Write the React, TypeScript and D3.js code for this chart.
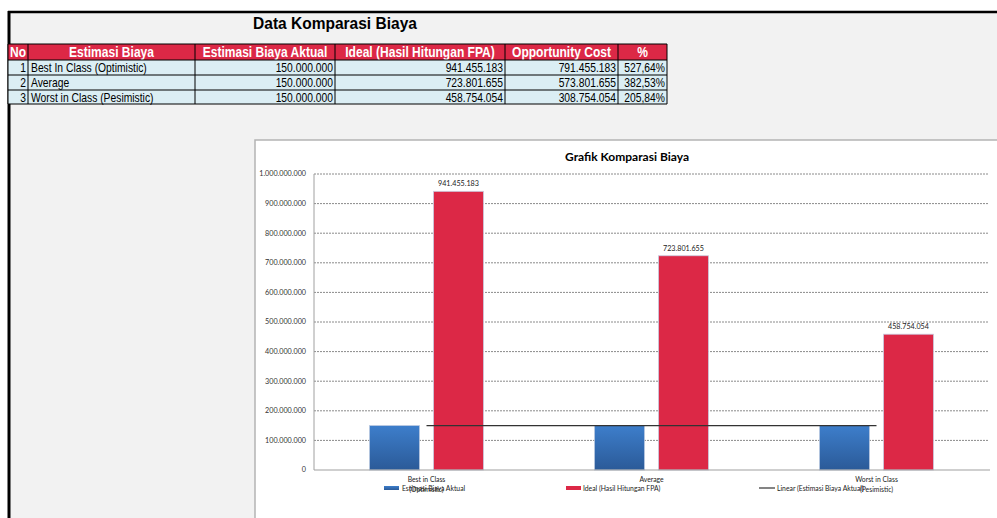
import React from "react";
import * as d3 from "d3";

const tableTitle = "Data Komparasi Biaya";
const chartTitle = "Grafik Komparasi Biaya";
const headers = ["No", "Estimasi Biaya", "Estimasi Biaya Aktual", "Ideal (Hasil Hitungan FPA)", "Opportunity Cost", "%"];
const categories = ["Best In Class (Optimistic)", "Average", "Worst in Class (Pesimistic)"];
const axisLabels = [["Best in Class", "(Optimistic)"], ["Average"], ["Worst in Class", "(Pesimistic)"]];
const aktual = [150000000, 150000000, 150000000];
const ideal = [941455183, 723801655, 458754054];
const opportunity = [791455183, 573801655, 308754054];
const percent = ["527,64%", "382,53%", "205,84%"];
const yTicks = [0, 100000000, 200000000, 300000000, 400000000, 500000000, 600000000, 700000000, 800000000, 900000000, 1000000000];
const seriesNames = ["Estimasi Biaya Aktual", "Ideal (Hasil Hitungan FPA)", "Linear (Estimasi Biaya Aktual)"];

const idLocale = d3.formatLocale({ decimal: ",", thousands: ".", grouping: [3], currency: ["", ""] });
const fmt = idLocale.format(",d");

const colEdges = [8, 28, 195, 335, 505, 618, 667];
const rowEdges = [44, 60, 75, 90, 104];

const RED = "#dc2846";
const TABLE_FONT = "'Liberation Sans', Arial, sans-serif";
const CHART_FONT = "Lato, 'Open Sans', sans-serif";

export default function App() {
  const y = d3.scaleLinear().domain([0, 1000000000]).range([470, 174]);
  const x = d3.scaleBand<string>().domain(categories).range([314, 989]).paddingInner(0).paddingOuter(0);
  const bw = x.bandwidth();
  const xs = d3.scaleBand<string>().domain(["aktual", "ideal"]).range([0, bw]).paddingInner(0.21875).paddingOuter(0.867);

  // linear trendline (least squares) on aktual
  const idx = aktual.map((_, i) => i + 1);
  const mx = d3.mean(idx) as number;
  const my = d3.mean(aktual) as number;
  const sxy = d3.sum(idx.map((v, i) => (v - mx) * (aktual[i] - my)));
  const sxx = d3.sum(idx.map((v) => (v - mx) * (v - mx)));
  const slope = sxx === 0 ? 0 : sxy / sxx;
  const icpt = my - slope * mx;
  const center = (i: number) => (x(categories[i]) as number) + bw / 2;
  const trend = d3.line<number>().x((i) => center(i)).y((i) => y(icpt + slope * (i + 1)));

  const rows = categories.map((c, i) => [String(i + 1), c, fmt(aktual[i]), fmt(ideal[i]), fmt(opportunity[i]), percent[i]]);
  const align = ["end", "start", "end", "end", "end", "end"];

  return (
    <svg width={997} height={518} style={{ position: "absolute", left: 0, top: 0, display: "block" }}>
      <defs>
        <linearGradient id="blueGrad" x1="0" y1="0" x2="0" y2="1">
          <stop offset="0%" stopColor="#3d7ecb" />
          <stop offset="100%" stopColor="#2b5a98" />
        </linearGradient>
      </defs>
      <rect x={0} y={0} width={997} height={518} fill="#ffffff" />
      <rect x={9} y={12} width={988} height={506} fill="#f2f2f2" />
      <line x1={8} x2={997} y1={12} y2={12} stroke="#000" strokeWidth={2.5} />
      <line x1={9} x2={9} y1={11} y2={518} stroke="#000" strokeWidth={3} />

      {/* Table */}
      <text x={335} y={29} textAnchor="middle" fontFamily={TABLE_FONT} fontWeight="bold" fontSize={16} fill="#000" transform="translate(335,0) scale(0.97,1) translate(-335,0)">
        {tableTitle}
      </text>
      <rect x={colEdges[0]} y={rowEdges[0]} width={colEdges[6] - colEdges[0]} height={rowEdges[1] - rowEdges[0]} fill={RED} />
      <rect x={colEdges[0]} y={rowEdges[1]} width={colEdges[6] - colEdges[0]} height={rowEdges[4] - rowEdges[1]} fill="#dbeef4" />
      {headers.map((h, j) => {
        const cx = (colEdges[j] + colEdges[j + 1]) / 2;
        return (
          <text key={h} x={0} y={0} textAnchor="middle" fontFamily={TABLE_FONT} fontWeight="bold" fontSize={14} fill="#fff" transform={`translate(${cx},57) scale(0.86,1)`}>
            {h}
          </text>
        );
      })}
      {rows.map((r, i) =>
        r.map((v, j) => {
          const tx = align[j] === "end" ? colEdges[j + 1] - 2 : colEdges[j] + 3;
          return (
            <text
              key={i + "-" + j}
              x={0}
              y={0}
              transform={`translate(${tx},${rowEdges[i + 1] + 11.5}) scale(0.86,1)`}
              textAnchor={align[j]}
              fontFamily={TABLE_FONT}
              fontSize={12}
              fill="#000"
            >
              {v}
            </text>
          );
        })
      )}
      {colEdges.map((cx, j) => (
        <line key={"c" + j} x1={cx} x2={cx} y1={rowEdges[0]} y2={rowEdges[4]} stroke="#000" strokeWidth={1} />
      ))}
      {rowEdges.map((ry, j) => (
        <line key={"r" + j} x1={colEdges[0]} x2={colEdges[6]} y1={ry} y2={ry} stroke="#000" strokeWidth={1} />
      ))}

      {/* Chart frame */}
      <rect x={255} y={140} width={760} height={400} fill="#fff" stroke="#b4b4b4" strokeWidth={1.5} />
      <text x={627} y={161} textAnchor="middle" fontFamily={CHART_FONT} fontWeight="bold" fontSize={12} fill="#000">
        {chartTitle}
      </text>

      {/* grid */}
      {yTicks.map((t) => (
        <g key={t}>
          {t > 0 && <line x1={314} x2={989} y1={y(t)} y2={y(t)} stroke="#8a8a8a" strokeWidth={1} strokeDasharray="2,1" />}
          <text x={306} y={y(t) + 2.3} textAnchor="end" fontFamily={CHART_FONT} fontSize={7.2} fill="#333">
            {fmt(t)}
          </text>
        </g>
      ))}
      <line x1={314} x2={314} y1={174} y2={470} stroke="#a0a0a0" strokeWidth={1} />

      {/* bars */}
      {categories.map((c, i) => {
        const x0 = x(c) as number;
        const bx = x0 + (xs("aktual") as number);
        const rx = x0 + (xs("ideal") as number);
        return (
          <g key={c}>
            <rect x={bx} y={y(aktual[i])} width={xs.bandwidth()} height={y(0) - y(aktual[i])} fill="url(#blueGrad)" stroke="#b8c8e0" strokeWidth={0.8} />
            <rect x={rx} y={y(ideal[i])} width={xs.bandwidth()} height={y(0) - y(ideal[i])} fill={RED} stroke="#c8cce0" strokeWidth={0.8} />
            <text x={rx + xs.bandwidth() / 2} y={y(ideal[i]) - 5} textAnchor="middle" fontFamily={CHART_FONT} fontSize={7.2} fill="#222">
              {fmt(ideal[i])}
            </text>
            {axisLabels[i].map((l, k) => (
              <text key={l} x={center(i)} y={482 + k * 9.5} textAnchor="middle" fontFamily={CHART_FONT} fontSize={6.8} fill="#222">
                {l}
              </text>
            ))}
          </g>
        );
      })}
      <line x1={314} x2={990} y1={470} y2={470} stroke="#a0a0a0" strokeWidth={1.2} />
      <path d={trend(idx.map((_, i) => i)) as string} fill="none" stroke="#333" strokeWidth={1.4} />

      {/* legend */}
      <rect x={384} y={486} width={15} height={4} fill="url(#blueGrad)" />
      <text x={402} y={490.5} fontFamily={CHART_FONT} fontSize={6.8} fill="#222">{seriesNames[0]}</text>
      <rect x={566} y={486} width={15} height={4} fill={RED} />
      <text x={583} y={490.5} fontFamily={CHART_FONT} fontSize={6.8} fill="#222">{seriesNames[1]}</text>
      <line x1={759} x2={775} y1={488} y2={488} stroke="#333" strokeWidth={1.2} />
      <text x={777} y={490.5} fontFamily={CHART_FONT} fontSize={6.8} fill="#222">{seriesNames[2]}</text>
    </svg>
  );
}
